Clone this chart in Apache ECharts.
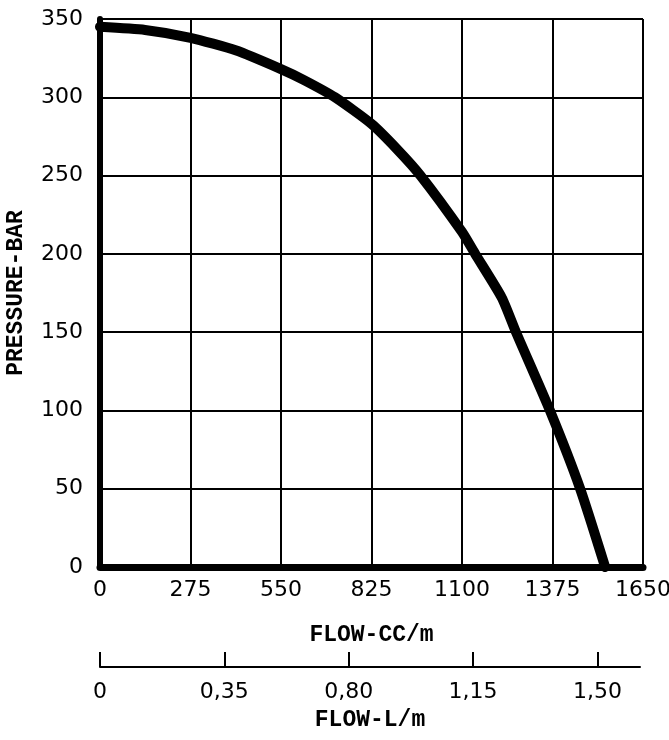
<!DOCTYPE html>
<html>
<head>
<meta charset="utf-8">
<script src="https://cdn.jsdelivr.net/npm/echarts@6/dist/echarts.min.js"></script>
<style>
html,body{margin:0;padding:0;background:#fff;}
#c{width:669px;height:740px;}
</style>
</head>
<body>
<div id="c"></div>
<script>
// Data
const flowCC = [0, 137, 275, 412, 550, 620, 714, 825, 902, 974, 1100, 1140, 1221, 1264, 1367, 1459, 1535];
const pressureBar = [345, 343, 338, 330, 318, 311, 300, 283, 267, 250, 214, 200, 172, 150, 100, 50, 0];
const flowLTickPos = [0, 380, 760, 1140, 1520];
const flowLTickLabels = ['0', '0,35', '0,80', '1,15', '1,50'];

const points = flowCC.map((f, i) => [f, pressureBar[i]]);
const labelFont = 'DejaVu Sans';
const nameFont = 'Liberation Mono';

const chart = echarts.init(document.getElementById('c'), null, {renderer: 'canvas'});
chart.setOption({
  backgroundColor: '#fff',
  animation: false,
  grid: [
    {left: 100, right: 26, top: 19, bottom: 173, outerBoundsMode: 'none', containLabel: false},
    {left: 100, right: 29, top: 600, bottom: 73, outerBoundsMode: 'none', containLabel: false}
  ],
  xAxis: [
    {
      gridIndex: 0, type: 'value', min: 0, max: 1650, interval: 275,
      name: 'FLOW-CC/m', nameLocation: 'middle', nameGap: 57,
      nameTextStyle: {fontFamily: nameFont, fontWeight: 'bold', fontSize: 23, color: '#000'},
      axisLine: {show: true, onZero: false, lineStyle: {color: '#000', width: 7, cap: 'round'}},
      axisTick: {show: false},
      axisLabel: {fontFamily: labelFont, fontSize: 22, color: '#000', margin: 12, showMaxLabel: true, showMinLabel: true,
        formatter: function (v) { return String(v); }},
      splitLine: {show: true, lineStyle: {color: '#000', width: 2}}
    },
    {
      gridIndex: 1, type: 'value', min: 0, max: 1650,
      name: 'FLOW-L/m', nameLocation: 'middle', nameGap: 42,
      nameTextStyle: {fontFamily: nameFont, fontWeight: 'bold', fontSize: 23, color: '#000'},
      axisLine: {show: true, onZero: false, lineStyle: {color: '#000', width: 2}},
      axisTick: {show: true, inside: true, length: 15, customValues: flowLTickPos, lineStyle: {color: '#000', width: 2}},
      axisLabel: {
        fontFamily: labelFont, fontSize: 22, color: '#000', margin: 14,
        customValues: flowLTickPos,
        formatter: function (v) { const i = flowLTickPos.indexOf(v); return i >= 0 ? flowLTickLabels[i] : ''; }
      },
      splitLine: {show: false}
    }
  ],
  yAxis: [
    {
      gridIndex: 0, type: 'value', min: 0, max: 350, interval: 50,
      name: 'PRESSURE-BAR', nameLocation: 'middle', nameGap: 72, nameRotate: 90,
      nameTextStyle: {fontFamily: nameFont, fontWeight: 'bold', fontSize: 23, color: '#000'},
      axisLine: {show: true, onZero: false, lineStyle: {color: '#000', width: 6, cap: 'round'}},
      axisTick: {show: false},
      axisLabel: {fontFamily: labelFont, fontSize: 22, color: '#000', margin: 17},
      splitLine: {show: true, lineStyle: {color: '#000', width: 2}}
    },
    {
      gridIndex: 1, type: 'value', show: false
    }
  ],
  series: [
    {
      type: 'line', xAxisIndex: 0, yAxisIndex: 0,
      data: points, symbol: 'none', smooth: 0.2,
      lineStyle: {color: '#000', width: 10, cap: 'round', join: 'round'},
      clip: false
    }
  ]
});
</script>
</body>
</html>
